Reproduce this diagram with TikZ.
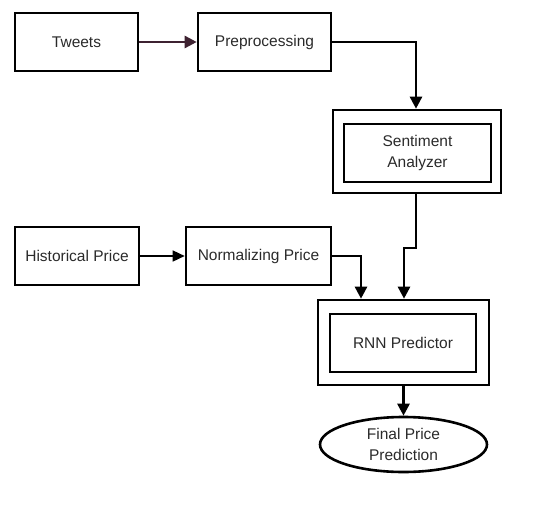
\documentclass[tikz,border=0pt]{standalone}
\usepackage{fontspec}
\setmainfont{Liberation Sans}
\usetikzlibrary{arrows.meta,shapes.geometric}
\definecolor{txt}{HTML}{2A2A2A}
\definecolor{maroon}{HTML}{3E2231}
\tikzset{
  lbl/.style={font=\fontsize{15.5}{20.5}\selectfont, text=txt, align=center},
  box/.style={draw, line width=2.6pt, minimum width=#1, minimum height=58pt, inner sep=0pt, lbl},
  outerbox/.style={draw, line width=2.6pt, inner sep=0pt},
  conn/.style={line width=2.6pt, -{Triangle[length=12pt,width=12pt]}},
  thinconn/.style={line width=1.5pt, -{Triangle[length=12pt,width=11pt]}},
}
\begin{document}
\begin{tikzpicture}[x=1pt,y=-1pt]
\useasboundingbox (0,0) rectangle (551,508);
\node[box=123pt] (tweets) at (76.5,42) {Tweets};
\node[box=133pt] (pre) at (264.5,42) {Preprocessing};
\node[box=147pt] (sent) at (417.5,153) {Sentiment\\Analyzer};
\node[outerbox, minimum width=168pt, minimum height=83pt] (sentout) at (417,151.5) {};
\node[box=124pt] (hist) at (77,256) {Historical Price};
\node[box=145pt] (norm) at (258.5,256) {Normalizing Price};
\node[box=146pt] (rnn) at (403,343) {RNN Predictor};
\node[outerbox, minimum width=171pt, minimum height=85pt] (rnnout) at (403.5,342.5) {};
\node[draw, line width=2.6pt, ellipse, minimum width=167pt, minimum height=55pt, inner sep=0pt, lbl] (final) at (403.5,444.5) {Final Price\\Prediction};
\coordinate (c1) at (416,42);
\coordinate (c2) at (361,256);
\coordinate (c3) at (416,248);
\coordinate (c4) at (404,248);
\draw[conn, draw=maroon, fill=maroon] (tweets) -- (pre);
\draw[conn] (pre.east) -- (c1) -- (c1 |- sentout.north);
\draw[thinconn] (hist) -- (norm);
\draw[conn] (norm.east) -- (c2) -- (c2 |- rnnout.north);
\draw[conn] (c3 |- sentout.south) -- (c3) -- (c4) -- (c4 |- rnnout.north);
\draw[conn] (rnnout.south -| final.north) -- (final.north);
\end{tikzpicture}
\end{document}
